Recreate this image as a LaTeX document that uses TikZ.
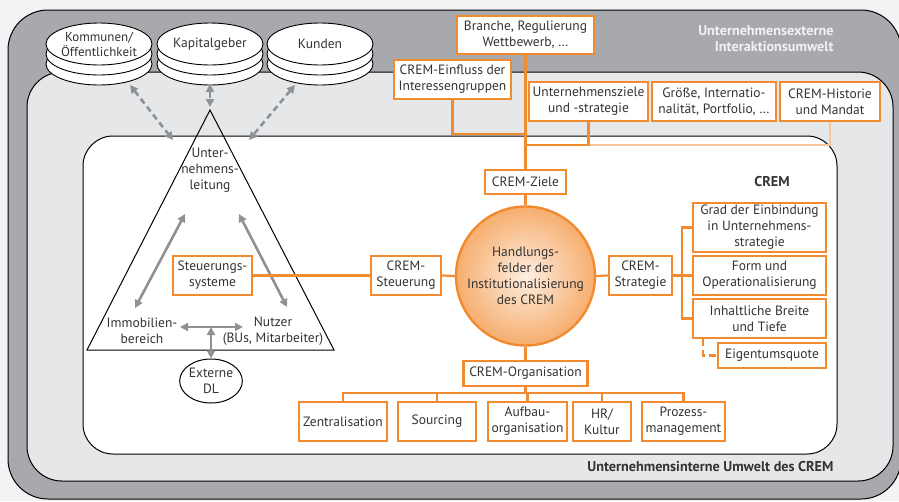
\documentclass[tikz,border=0pt]{standalone}
\usepackage{fontspec}
\setmainfont{PT Sans}
\usetikzlibrary{arrows.meta,shapes.geometric,calc}
\definecolor{orng}{HTML}{F28B30}
\definecolor{orngl}{HTML}{F8C79C}
\definecolor{dgray}{HTML}{A7A9AC}
\definecolor{mgray}{HTML}{E6E7E8}
\definecolor{bgc}{HTML}{F2F3F5}
\definecolor{txt}{HTML}{333333}
\definecolor{arr}{HTML}{8E9297}
\definecolor{lbl}{HTML}{F2F2F2}
\begin{document}
\begin{tikzpicture}[x=1pt,y=-1pt,
  font=\fontsize{13.5}{16}\selectfont, text=txt,
  ob/.style={draw=orng, line width=2.4pt, fill=white, align=center, inner sep=0pt},
  oline/.style={draw=orng, line width=2.2pt},
  olight/.style={draw=orngl, line width=2.2pt},
  garr/.style={draw=arr, line width=2.6pt, {Triangle[length=8pt,width=8pt]}-{Triangle[length=8pt,width=8pt]}},
  gdash/.style={garr, dash pattern=on 6pt off 4pt},
  disk/.style={draw=black, line width=0.9pt, fill=white},
  bold/.style={font=\fontsize{14.2}{16}\selectfont\bfseries}]
\useasboundingbox (0,0) rectangle (899,501);
% backgrounds
\fill[bgc] (0,0) rectangle (899,501);
\begin{scope}
\clip (0,0) rectangle (899,501);
\draw[fill=dgray, line width=1pt, rounded corners=40] (8,10) rectangle (901,499);
\end{scope}
\draw[fill=mgray, line width=1pt, rounded corners=35] (27,72) rectangle (893,481);
\draw[fill=white, line width=1pt, rounded corners=30] (83,136) rectangle (837,454);

% area labels
\node[bold, text=lbl, anchor=east, align=right] (extlbl) at (837,39) {Unternehmensexterne\\Interaktionsumwelt};
\node[bold] (cremlbl) at (772,182) {CREM};
\node[bold, anchor=east] (intlbl) at (837,467) {Unternehmensinterne Umwelt des CREM};

% stakeholder disks
\foreach \cx in {99,210,320}{
  \foreach \dy in {20,10,0}{
    \draw[disk] (\cx,44+\dy) ellipse (53 and 21);
  }
}
\node[align=center, font=\fontsize{13}{15}\selectfont] (kom) at (99,44) {Kommunen/\\Öffentlichkeit};
\node (kap) at (210,44) {Kapitalgeber};
\node (kun) at (320,44) {Kunden};

% triangle
\coordinate (tA) at (210,110);
\coordinate (tB) at (87,350);
\coordinate (tC) at (334,350);
\draw[line width=1pt] (tA) -- (tB) -- (tC) -- cycle;
\node[align=center] (ul) at (210,170) {Unter-\\nehmens-\\leitung};
\node[align=center] (imm) at (142,331) {Immobilien-\\bereich};
\node[align=center] (nutz) at (273,331) {Nutzer\\(BUs, Mitarbeiter)};
\node[draw=black, line width=1pt, ellipse, minimum width=57, minimum height=44, inner sep=0pt, align=center] (ext) at (211,381) {Externe\\DL};

% gray arrows
\coordinate (d1a) at (130,85); \coordinate (d1b) at (173,140);
\coordinate (d2a) at (210,84); \coordinate (d2b) at (210,107);
\coordinate (d3a) at (295,85); \coordinate (d3b) at (249,140);
\draw[gdash] (d1a) -- (d1b);
\draw[gdash] (d2a) -- (d2b);
\draw[gdash] (d3a) -- (d3b);
\coordinate (l1) at (185,214); \coordinate (l2) at (135,308);
\coordinate (r1) at (239,214); \coordinate (r2) at (287,307);
\coordinate (h1) at (180,327); \coordinate (h2) at (243,327);
\coordinate (v1) at (211,327);
\draw[garr] (l1) -- (l2);
\draw[garr] (r1) -- (r2);
\draw[garr] (h1) -- (h2);
\draw[garr] (v1) -- (ext.north);

% orange boxes
\node[ob, minimum width=137, minimum height=38] (branche) at (525.5,35) {Branche, Regulierung\\Wettbewerb, \dots};
\node[ob, minimum width=117, minimum height=39] (einfluss) at (452.5,79.5) {CREM-Einfluss der\\Interessengruppen};
\node[ob, minimum width=119, minimum height=39] (uziele) at (588.5,101.5) {Unternehmensziele\\und -strategie};
\node[ob, minimum width=124, minimum height=39] (groesse) at (714,101.5) {Größe, Internatio-\\nalität, Portfolio, \dots};
\node[ob, minimum width=100, minimum height=39] (historie) at (830,101.5) {CREM-Historie\\und Mandat};
\node[ob, minimum width=81, minimum height=24] (ziele) at (525.5,182) {CREM-Ziele};
\node[circle, draw=orng, line width=2.4pt, minimum size=139, inner sep=0pt, align=center,
      inner color=orng!15, outer color=orng!70] (hf) at (525.5,276) {Handlungs-\\felder der\\Institutionalisierung\\des CREM};
\node[ob, minimum width=79, minimum height=39] (steuer) at (212.5,275.5) {Steuerungs-\\systeme};
\node[ob, minimum width=70, minimum height=39] (csteuer) at (406,275.5) {CREM-\\Steuerung};
\node[ob, minimum width=63, minimum height=39] (strat) at (640.5,275.5) {CREM-\\Strategie};
\node[ob, minimum width=133, minimum height=49] (grad) at (759.5,227.5) {Grad der Einbindung\\in Unternehmens-\\strategie};
\node[ob, minimum width=133, minimum height=39] (form) at (759.5,275.5) {Form und\\Operationalisierung};
\node[ob, minimum width=133, minimum height=39] (inhalt) at (759.5,318.5) {Inhaltliche Breite\\und Tiefe};
\node[ob, minimum width=108, minimum height=25] (eigen) at (772,355.5) {Eigentumsquote};
\node[ob, minimum width=124, minimum height=25] (orga) at (525.5,373.5) {CREM-Organisation};
\node[ob, minimum width=88, minimum height=39] (zentral) at (343,421.5) {Zentralisation};
\node[ob, minimum width=78, minimum height=39] (sourcing) at (437,421.5) {Sourcing};
\node[ob, minimum width=79, minimum height=39] (aufbau) at (527.5,421.5) {Aufbau-\\organisation};
\node[ob, minimum width=58, minimum height=39] (hr) at (602,421.5) {HR/\\Kultur};
\node[ob, minimum width=83, minimum height=39] (prozess) at (683.5,421.5) {Prozess-\\management};

% orange connectors
\coordinate (j1) at (525.5,134);
\coordinate (j2) at (525.5,145);
\draw[olight] (historie.south) |- (uziele.south |- j2);
\draw[oline] (branche.south) -- (ziele.north);
\draw[oline] (einfluss.south) |- (j1);
\draw[oline] (uziele.south) |- (j2);
\draw[oline] (ziele.south) -- (hf.north);
\draw[oline] (steuer.east) -- (csteuer.west);
\draw[oline] (csteuer.east) -- (hf.west);
\draw[oline] (hf.east) -- (strat.west);
\draw[oline] (strat.east) -- (form.west);
\coordinate (sb) at (682,275.5);
\draw[oline] (grad.west) -| (sb) |- (inhalt.west);
\draw[oline, dash pattern=on 7pt off 4pt] ($(inhalt.south west)+(11,0)$) |- (eigen.west);
\draw[oline] (hf.south) -- (orga.north);
\coordinate (bus) at (525.5,394);
\draw[oline] (orga.south) -- (bus);
\draw[oline] (zentral.north) -- ++(0,-8) -| (prozess.north);
\draw[oline] (sourcing.north) -- ++(0,-8);
\draw[oline] (aufbau.north) -- ++(0,-8);
\draw[oline] (hr.north) -- ++(0,-8);
\end{tikzpicture}
\end{document}
